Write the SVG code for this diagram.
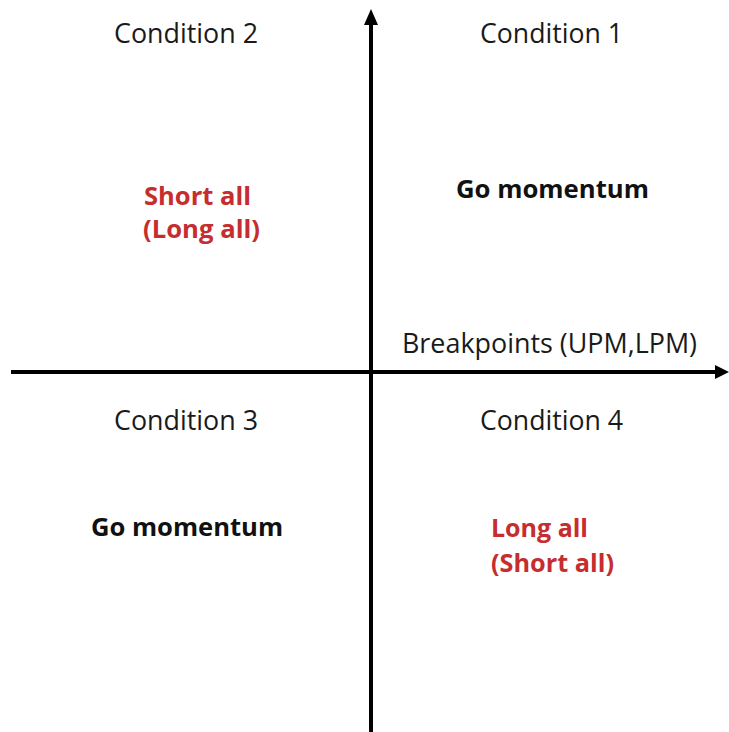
<svg xmlns="http://www.w3.org/2000/svg" width="729" height="732" viewBox="0 0 729 732">
  <style>
    .lbl { font-family: "Open Sans", "Liberation Sans", sans-serif; font-size: 27px; fill: #1a1a1a; }
    .act { font-family: "Open Sans", "Liberation Sans", sans-serif; font-size: 25px; font-weight: bold; fill: #111111; }
    .red { fill: #C62D2F; }
    .axis { stroke: #000000; stroke-width: 4; fill: none; }
  </style>
  <rect width="729" height="732" fill="#ffffff"/>

  <g id="axes">
    <line class="axis" x1="371" y1="732" x2="371" y2="22"/>
    <polygon points="371,9 364,25 378,25" fill="#000"/>
    <line class="axis" x1="11" y1="372" x2="717" y2="372"/>
    <polygon points="729,372 715,365 715,379" fill="#000"/>
  </g>

  <g id="quadrant-1">
    <text class="lbl" x="480" y="43" textLength="143" lengthAdjust="spacingAndGlyphs">Condition 1</text>
    <text class="act" x="456" y="198" textLength="193" lengthAdjust="spacingAndGlyphs">Go momentum</text>
  </g>

  <g id="quadrant-2">
    <text class="lbl" x="114" y="43" textLength="144" lengthAdjust="spacingAndGlyphs">Condition 2</text>
    <text class="act red" x="144" y="205" textLength="107" lengthAdjust="spacingAndGlyphs">Short all</text>
    <text class="act red" x="143" y="238" textLength="117" lengthAdjust="spacingAndGlyphs">(Long all)</text>
  </g>

  <g id="breakpoints">
    <text class="lbl" x="402" y="353" textLength="295" lengthAdjust="spacingAndGlyphs">Breakpoints (UPM,LPM)</text>
  </g>

  <g id="quadrant-3">
    <text class="lbl" x="114" y="430" textLength="144" lengthAdjust="spacingAndGlyphs">Condition 3</text>
    <text class="act" x="91" y="536" textLength="192" lengthAdjust="spacingAndGlyphs">Go momentum</text>
  </g>

  <g id="quadrant-4">
    <text class="lbl" x="480" y="430" textLength="143" lengthAdjust="spacingAndGlyphs">Condition 4</text>
    <text class="act red" x="491" y="537" textLength="97" lengthAdjust="spacingAndGlyphs">Long all</text>
    <text class="act red" x="491" y="572" textLength="123" lengthAdjust="spacingAndGlyphs">(Short all)</text>
  </g>
</svg>
